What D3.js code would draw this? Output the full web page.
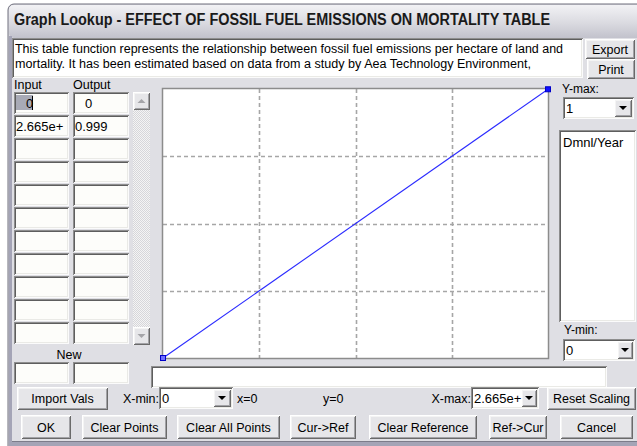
<!DOCTYPE html>
<html><head><meta charset="utf-8">
<script src="https://cdn.jsdelivr.net/npm/d3@7"></script>
<style>
body{margin:0;background:#fff;overflow:hidden}
text{font-family:"Liberation Sans",Arial,sans-serif;font-size:12px;fill:#000}
</style>
</head><body><svg id="c" width="637" height="446"></svg>
<script>
// ---- data ----
const titleText = "Graph Lookup - EFFECT OF FOSSIL FUEL EMISSIONS ON MORTALITY TABLE";
const descLines = [
  "This table function represents the relationship between fossil fuel emissions per hectare of land and",
  "mortality. It has been estimated based on data from a study by Aea Technology Environment,"
];
const inputLabels = ["0", "2.665e+"];
const outputLabels = ["0", "0.999"];
const xValues = [0, 2.665];
const yValues = [0, 0.999];
const xRange = [0, 2.665];
const yRange = [0, 1];
const xMinLabel = "0", xMaxLabel = "2.665e+", yMaxLabel = "1", yMinLabel = "0";
const unitsLabel = "Dmnl/Year";
const cursorLabels = ["x=0", "y=0"];
const gridDivisions = 4;
const tableRows = 11;
const bottomButtons = ["OK", "Clear Points", "Clear All Points", "Cur->Ref", "Clear Reference", "Ref->Cur", "Cancel"];

// ---- drawing ----
const svg = d3.select("#c");
const defs = svg.append("defs");
const tg = defs.append("linearGradient").attr("id", "tb").attr("x1", 0).attr("y1", 0).attr("x2", 0).attr("y2", 1);
tg.append("stop").attr("offset", "0").attr("stop-color", "#f2f2f5");
tg.append("stop").attr("offset", "0.55").attr("stop-color", "#dadae0");
tg.append("stop").attr("offset", "1").attr("stop-color", "#c2c2cc");
const pat = defs.append("pattern").attr("id", "dith").attr("width", 2).attr("height", 2).attr("patternUnits", "userSpaceOnUse");
pat.append("rect").attr("width", 2).attr("height", 2).attr("fill", "#f4f4f4");
pat.append("rect").attr("width", 1).attr("height", 1).attr("fill", "#d6d6da");
pat.append("rect").attr("x", 1).attr("y", 1).attr("width", 1).attr("height", 1).attr("fill", "#d6d6da");

const BG = "#dfdfe4";
// window
svg.append("rect").attr("x", 8).attr("y", 4).attr("width", 640).attr("height", 460).attr("rx", 6)
  .attr("fill", BG).attr("stroke", "#6e6e7c").attr("stroke-width", 1);
svg.append("rect").attr("x", 9).attr("y", 5).attr("width", 640).attr("height", 33).attr("rx", 5).attr("fill", "url(#tb)");
svg.append("rect").attr("x", 9).attr("y", 36).attr("width", 3).attr("height", 410).attr("fill", "#a4a4b6");
svg.append("rect").attr("x", 9).attr("y", 442).attr("width", 628).attr("height", 4).attr("fill", "#a4a4b6");
svg.append("line").attr("x1", 12).attr("x2", 637).attr("y1", 441.5).attr("y2", 441.5).attr("stroke", "#7c7c8a");
svg.append("text").attr("x", 14).attr("y", 25).attr("textLength", 536).attr("lengthAdjust", "spacingAndGlyphs")
  .style("font-size", "16px").style("font-weight", "bold").style("fill", "#1a1a1a").text(titleText);

const g = svg.append("g").attr("shape-rendering", "crispEdges");

function edge(x, y, w, h, tl, br) {
  g.append("path").attr("fill", "none").attr("stroke", tl)
    .attr("d", `M${x + 0.5},${y + h - 0.5}V${y + 0.5}H${x + w - 0.5}`);
  g.append("path").attr("fill", "none").attr("stroke", br)
    .attr("d", `M${x + 0.5},${y + h - 0.5}H${x + w - 0.5}V${y + 0.5}`);
}
function sunken(x, y, w, h, fill) {
  g.append("rect").attr("x", x).attr("y", y).attr("width", w).attr("height", h).attr("fill", fill || "#fdfdfa");
  edge(x, y, w, h, "#8e8e8e", "#fbfbfb");
  edge(x + 1, y + 1, w - 2, h - 2, "#5e5e5e", "#eaeae6");
}
function raised(x, y, w, h, label, opts) {
  g.append("rect").attr("x", x).attr("y", y).attr("width", w).attr("height", h).attr("fill", "#e6e6e9");
  edge(x, y, w, h, "#ffffff", "#6a6a6a");
  edge(x + 1, y + 1, w - 2, h - 2, "#f4f4f4", "#a2a2a6");
  if (label) svg.append("text").attr("x", x + w / 2).attr("y", y + h / 2 + 4.5)
    .attr("text-anchor", "middle").style("font-size", "12.5px").text(label);
}
function arrowBtn(x, y, w, h, down, color) {
  raised(x, y, w, h);
  const cx = x + w / 2, cy = y + h / 2;
  const d = down ? `M${cx - 4},${cy - 2}L${cx + 4},${cy - 2}L${cx},${cy + 2}Z` : `M${cx - 4},${cy + 2}L${cx + 4},${cy + 2}L${cx},${cy - 2}Z`;
  svg.append("path").attr("d", d).attr("fill", color || "#000");
}
function dropdown(x, y, w, h, aw, label) {
  sunken(x, y, w, h, "#ffffff");
  arrowBtn(x + w - aw - 2, y + 2, aw, h - 4, true);
  svg.append("text").attr("x", x + 3).attr("y", y + h / 2 + 5).style("font-size", "13px").text(label);
}

// description box + export/print
sunken(12, 38, 571, 40, "#ffffff");
descLines.forEach((s, i) => {
  svg.append("text").attr("x", 15).attr("y", 53 + i * 15)
    .attr("textLength", i === 0 ? 548 : 516).attr("lengthAdjust", "spacingAndGlyphs").text(s);
});
raised(585, 39, 50, 20, "Export");
raised(587, 59, 48, 20, "Print");

// table
svg.append("text").attr("x", 14).attr("y", 89).style("font-size", "12.5px").text("Input");
svg.append("text").attr("x", 73).attr("y", 89).style("font-size", "12.5px").text("Output");
for (let i = 0; i < tableRows; i++) {
  const ry = 92 + i * 23;
  sunken(14, ry, 55, 22);
  sunken(73, ry, 56, 22);
}
// selection in first input cell
g.append("rect").attr("x", 16).attr("y", 95).attr("width", 17).attr("height", 15).attr("fill", "#a8aab6");
inputLabels.forEach((s, i) => {
  const ry = 92 + i * 23;
  svg.append("text").attr("x", i === 0 ? 26 : 16).attr("y", ry + 16).style("font-size", "13px").text(s);
  svg.append("text").attr("x", i === 0 ? 85 : 75).attr("y", ry + 16).style("font-size", "13px").text(outputLabels[i]);
});
g.append("line").attr("x1", 32.5).attr("x2", 32.5).attr("y1", 96).attr("y2", 110).attr("stroke", "#000").attr("stroke-width", 1.5);

// scrollbar
g.append("rect").attr("x", 133).attr("y", 92).attr("width", 17).attr("height", 253).attr("fill", "url(#dith)");
arrowBtn(133, 92, 17, 18, false, "#a4a4a8");
arrowBtn(133, 327, 17, 18, true, "#a4a4a8");

// new
svg.append("text").attr("x", 69).attr("y", 359).attr("text-anchor", "middle").style("font-size", "12.5px").text("New");
sunken(14, 362, 55, 22);
sunken(73, 362, 56, 22);

// plot
const x = d3.scaleLinear().domain(xRange).range([163, 548]);
const y = d3.scaleLinear().domain(yRange).range([358, 89]);
svg.append("rect").attr("x", x(xRange[0])).attr("y", y(yRange[1]))
  .attr("width", x(xRange[1]) - x(xRange[0])).attr("height", y(yRange[0]) - y(yRange[1]))
  .attr("fill", "#ffffff");
const grid = svg.append("g").attr("stroke", "#a6a6a6").attr("stroke-width", 1.6).attr("stroke-dasharray", "4,3");
d3.range(1, gridDivisions).forEach(i => {
  const xv = xRange[0] + i * (xRange[1] - xRange[0]) / gridDivisions;
  const yv = yRange[0] + i * (yRange[1] - yRange[0]) / gridDivisions;
  grid.append("line").attr("x1", Math.round(x(xv)) + 0.5).attr("x2", Math.round(x(xv)) + 0.5)
    .attr("y1", y(yRange[1])).attr("y2", y(yRange[0]));
  grid.append("line").attr("y1", Math.round(y(yv)) + 0.5).attr("y2", Math.round(y(yv)) + 0.5)
    .attr("x1", x(xRange[0])).attr("x2", x(xRange[1]));
});
svg.append("rect").attr("x", x(xRange[0]) - 0.5).attr("y", y(yRange[1]) - 0.5)
  .attr("width", x(xRange[1]) - x(xRange[0]) + 1).attr("height", y(yRange[0]) - y(yRange[1]) + 1)
  .attr("fill", "none").attr("stroke", "#8c8c8c").attr("stroke-width", 1.5);
const pts = xValues.map((v, i) => [v, yValues[i]]);
svg.append("path").datum(pts).attr("fill", "none").attr("stroke", "#2a2aff").attr("stroke-width", 1.1)
  .attr("d", d3.line().x(d => x(d[0])).y(d => y(d[1])));
svg.selectAll("rect.pt").data(pts).join("rect").attr("class", "pt")
  .attr("x", d => x(d[0]) - 2.5).attr("y", d => y(d[1]) - 2.5).attr("width", 5).attr("height", 5)
  .attr("fill", (d, i) => i === 0 ? "#7070ff" : "#1010ff").attr("stroke", "#0000c8").attr("stroke-width", 1);

// right panel
svg.append("text").attr("x", 562).attr("y", 93).text("Y-max:");
dropdown(563, 97, 71, 22, 18, yMaxLabel);
sunken(559, 130, 77, 192, "#ffffff");
svg.append("text").attr("x", 563).attr("y", 147).style("font-size", "13px").text(unitsLabel);
svg.append("text").attr("x", 564).attr("y", 334).text("Y-min:");
dropdown(563, 339, 72, 22, 16, yMinLabel);

// bottom strip
sunken(151, 366, 456, 22, "#ffffff");

// row 1
raised(17, 387, 91, 23, "Import Vals");
svg.append("text").attr("x", 159).attr("y", 403).attr("text-anchor", "end").style("font-size", "12.5px").text("X-min:");
dropdown(159, 387, 74, 22, 18, xMinLabel);
svg.append("text").attr("x", 237).attr("y", 403).style("font-size", "12.5px").text(cursorLabels[0]);
svg.append("text").attr("x", 323).attr("y", 403).style("font-size", "12.5px").text(cursorLabels[1]);
svg.append("text").attr("x", 471).attr("y", 403).attr("text-anchor", "end").style("font-size", "12.5px").text("X-max:");
dropdown(471, 387, 68, 22, 16, xMaxLabel);
raised(547, 387, 89, 23, "Reset Scaling");

// row 2
const btnX = [[21, 50], [82, 85], [177, 103], [290, 66], [369, 108], [489, 58], [560, 73]];
bottomButtons.forEach((b, i) => raised(btnX[i][0], 415, btnX[i][1], 24, b));
</script></body></html>
